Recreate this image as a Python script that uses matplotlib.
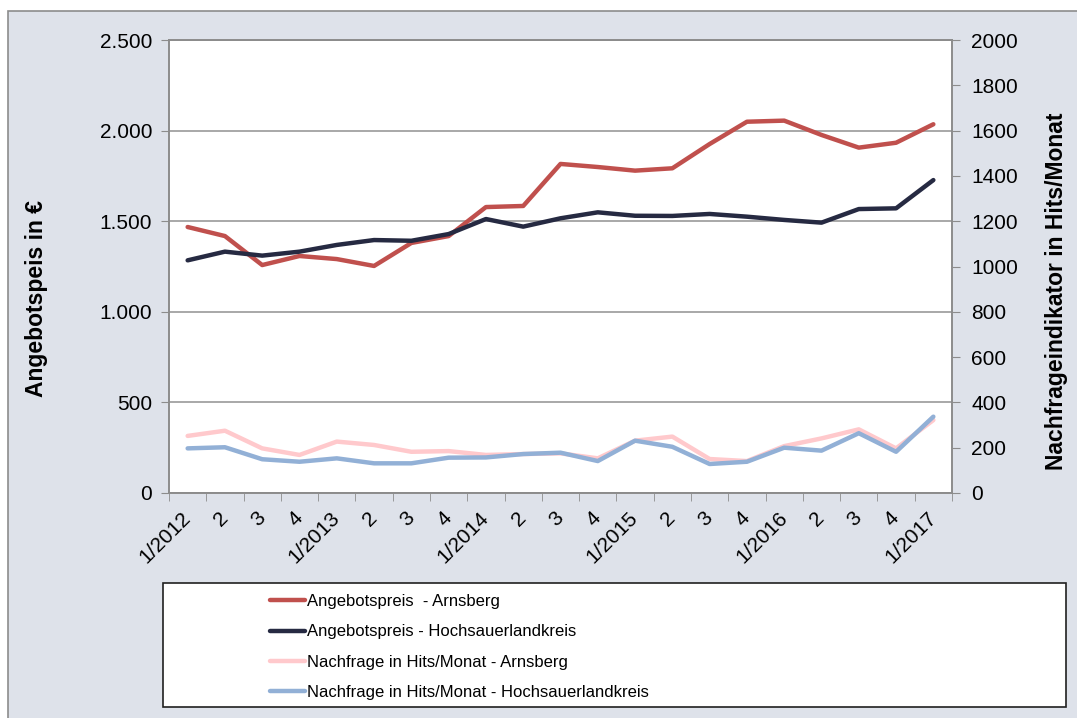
import numpy as np
import matplotlib.pyplot as plt
from matplotlib.patches import Rectangle
from matplotlib.ticker import FuncFormatter, MultipleLocator

# quarters 1/2012 .. 1/2017
quarters = ["1/2012", "2", "3", "4",
            "1/2013", "2", "3", "4",
            "1/2014", "2", "3", "4",
            "1/2015", "2", "3", "4",
            "1/2016", "2", "3", "4",
            "1/2017"]

# offer price in EUR (left axis)
preis_arnsberg = [1468, 1418, 1258, 1308, 1291, 1253, 1380, 1418, 1578, 1584, 1816,
                  1799, 1779, 1792, 1926, 2049, 2055, 1976, 1906, 1933, 2035]
preis_hsk = [1284, 1332, 1310, 1332, 1369, 1396, 1392, 1429, 1512, 1470, 1516,
             1549, 1530, 1529, 1540, 1525, 1507, 1492, 1567, 1571, 1727]

# demand in hits per month (right axis)
hits_arnsberg = [252, 275, 197, 168, 227, 212, 182, 185, 168, 172, 175,
                 153, 231, 249, 150, 141, 207, 241, 281, 197, 322]
hits_hsk = [197, 202, 149, 138, 153, 131, 131, 156, 157, 172, 178,
            141, 231, 204, 128, 138, 200, 187, 264, 182, 337]

labels = ["Angebotspreis  - Arnsberg",
          "Angebotspreis - Hochsauerlandkreis",
          "Nachfrage in Hits/Monat - Arnsberg",
          "Nachfrage in Hits/Monat - Hochsauerlandkreis"]
colors = ["#C0504D", "#262A42", "#FFC9CC", "#92B0D6"]

plt.rcParams['font.family'] = ['Liberation Sans', 'DejaVu Sans']

W, H = 1077, 718
fig = plt.figure(figsize=(W / 100, H / 100), dpi=100)
fig.patch.set_facecolor("white")

# outer chart area
bg = Rectangle((8 / W, -0.01), 1.0, 1 - 11 / H + 0.01, transform=fig.transFigure,
               facecolor="#DEE2EA", edgecolor="#8C8C8C", linewidth=1.2, zorder=0)
fig.patches.append(bg)

ax = fig.add_axes([169 / W, 1 - 493 / H, (952 - 169) / W, (493 - 40) / H])
ax2 = ax.twinx()
ax.set_zorder(3)
ax2.set_zorder(4)
ax.set_facecolor("white")
ax2.patch.set_visible(False)

x = np.arange(len(quarters))
l1, = ax.plot(x, preis_arnsberg, color=colors[0], lw=3.2, solid_capstyle="round")
l2, = ax.plot(x, preis_hsk, color=colors[1], lw=3.2, solid_capstyle="round")
l3, = ax2.plot(x, hits_arnsberg, color=colors[2], lw=3.2, solid_capstyle="round")
l4, = ax2.plot(x, hits_hsk, color=colors[3], lw=3.2, solid_capstyle="round")

ax.set_xlim(-0.5, len(quarters) - 0.5)
ax.set_ylim(0, 2500)
ax2.set_ylim(0, 2000)
ax.yaxis.set_major_locator(MultipleLocator(500))
ax2.yaxis.set_major_locator(MultipleLocator(200))
ax.yaxis.set_major_formatter(FuncFormatter(lambda v, p: f"{v:,.0f}".replace(",", ".")))
ax2.yaxis.set_major_formatter(FuncFormatter(lambda v, p: f"{v:.0f}"))

ax.grid(axis="y", color="#9A9A9A", lw=1.2)
ax.set_axisbelow(True)
for a in (ax, ax2):
    for s in a.spines.values():
        s.set_color("#8C8C8C")
        s.set_linewidth(1.2)

ax.tick_params(axis="y", length=6, color="#8C8C8C", labelsize=15, pad=6)
ax2.tick_params(axis="y", length=6, color="#8C8C8C", labelsize=15, pad=8)

# category labels at centres, tick marks at boundaries
ax.set_xticks(x)
ax.set_xticklabels(quarters, rotation=45, ha="right", va="center", rotation_mode="anchor")
ax.tick_params(axis="x", which="major", length=0, labelsize=15, pad=16)
ax.set_xticks(np.arange(len(quarters) + 1) - 0.5, minor=True)
ax.tick_params(axis="x", which="minor", length=6, color="#8C8C8C")

fig.text(37 / W, 1 - 299 / H, "Angebotspeis in €", rotation=90, fontsize=16.5,
         fontweight="bold", ha="center", va="center")
fig.text(1057 / W, 1 - 291 / H, "Nachfrageindikator in Hits/Monat", rotation=90,
         fontsize=16.5, fontweight="bold", ha="center", va="center")

# legend box
box = Rectangle((163 / W, 1 - 707 / H), (1066 - 163) / W, (707 - 583) / H,
                transform=fig.transFigure, facecolor="white", edgecolor="#202020",
                linewidth=1.2, zorder=1)
fig.patches.append(box)
leg = fig.legend([l1, l2, l3, l4], labels, loc="upper left",
                 bbox_to_anchor=(255 / W, 1 - 579 / H), frameon=False,
                 handlelength=2.1, handletextpad=0.12, labelspacing=0.92,
                 prop={"size": 12})
leg.set_zorder(5)

fig.savefig("out.png", dpi=100)
